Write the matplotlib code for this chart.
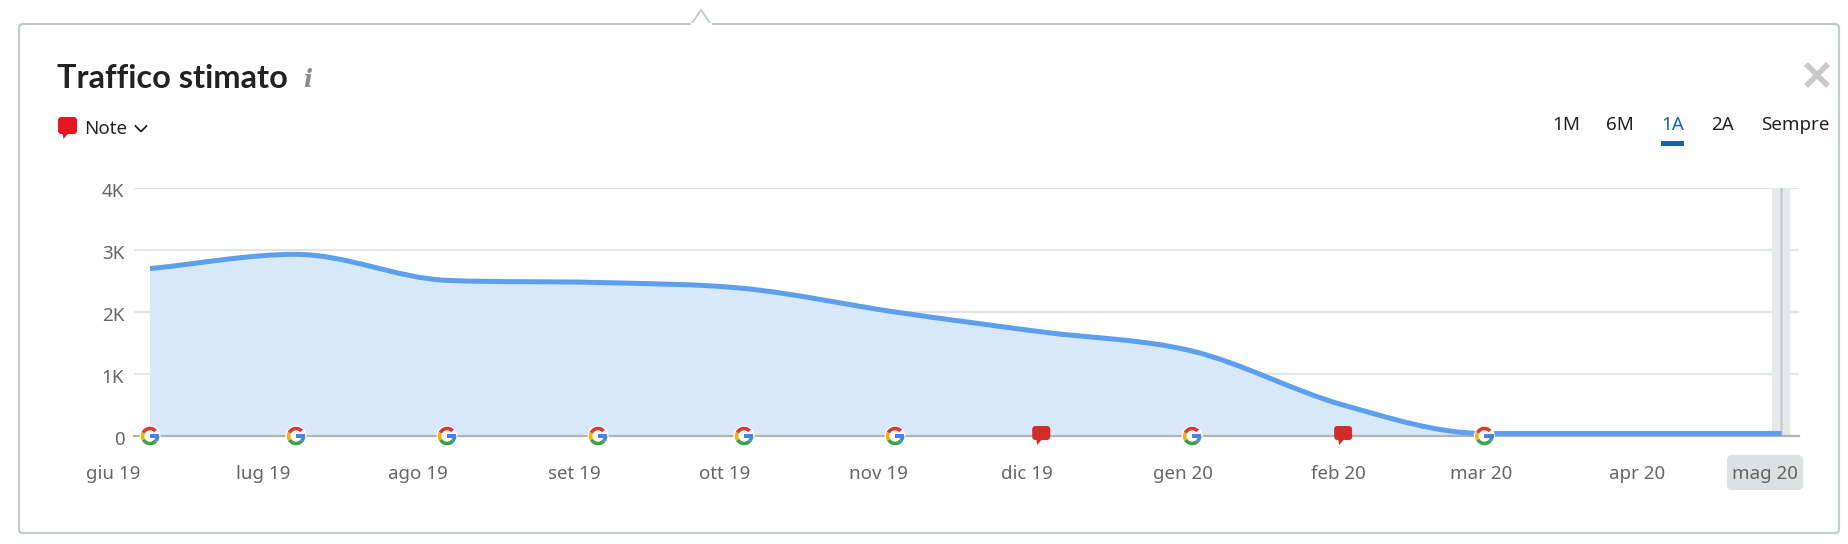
from datetime import date

import numpy as np
import matplotlib
matplotlib.use('Agg')
import matplotlib.pyplot as plt
import matplotlib.dates as mdates
from matplotlib.patches import Wedge, Circle, FancyBboxPatch, Polygon, PathPatch, Rectangle
from matplotlib.path import Path
from matplotlib.transforms import ScaledTranslation

plt.rcParams['font.family'] = ['Noto Sans', 'DejaVu Sans']

W, H, DPI = 1848, 544, 100

# data
months = [date(2019, 6, 1), date(2019, 7, 1), date(2019, 8, 1), date(2019, 9, 1),
          date(2019, 10, 1), date(2019, 11, 1), date(2019, 12, 1), date(2020, 1, 1),
          date(2020, 2, 1), date(2020, 3, 1), date(2020, 4, 1), date(2020, 5, 1)]
month_labels = ['giu 19', 'lug 19', 'ago 19', 'set 19', 'ott 19', 'nov 19',
                'dic 19', 'gen 20', 'feb 20', 'mar 20', 'apr 20', 'mag 20']
traffic = [2700, 2930, 2510, 2476, 2380, 2000, 1680, 1370, 500, 40, 40, 40]
y_ticks = [0, 1000, 2000, 3000, 4000]
y_labels = ['0', '1K', '2K', '3K', '4K']
google_events = [0, 1, 2, 3, 4, 5, 7, 9]
note_events = [6, 8]
periods = ['1M', '6M', '1A', '2A', 'Sempre']

# labels do not sit right under their month in the original
label_shift = [-37, -33, -29, -24, -20, -17, -14, -9, -5, -3, 2, -17]
period_x = [1566, 1620, 1673, 1723, 1795]

GRID = '#e1e5e8'
BORDER = '#c3cbcf'
LINE = '#5b9fee'
FILL = '#d8e8f9'
TEXT = '#666666'
DARK = '#222222'


def smooth_path(xs, ys):
    # monotone cubic through the points, same look as the web chart
    xs = np.asarray(xs, dtype=float)
    ys = np.asarray(ys, dtype=float)
    dx = np.diff(xs)
    d = np.diff(ys) / dx
    m = np.zeros(len(xs))
    m[0], m[-1] = d[0], d[-1]
    for i in range(1, len(xs) - 1):
        if d[i - 1] * d[i] > 0:
            avg = (d[i - 1] + d[i]) / 2
            m[i] = np.sign(avg) * min(abs(avg), 3 * min(abs(d[i - 1]), abs(d[i])))
    verts = [(xs[0], ys[0])]
    codes = [Path.MOVETO]
    for i in range(len(dx)):
        verts += [(xs[i] + dx[i] / 3, ys[i] + m[i] * dx[i] / 3),
                  (xs[i + 1] - dx[i] / 3, ys[i + 1] - m[i + 1] * dx[i] / 3),
                  (xs[i + 1], ys[i + 1])]
        codes += [Path.CURVE4] * 3
    return verts, codes


def draw_google(ov, cx, cy):
    ov.add_patch(Circle((cx, cy), 10.5, fc='white', ec='none', zorder=6))
    # y runs downwards on the overlay, so 270 is the top
    for a, b, c in [(205, 318, '#d93a2b'), (150, 205, '#eeb211'),
                    (40, 150, '#3da34a'), (0, 40, '#4a7fec')]:
        ov.add_patch(Wedge((cx, cy), 9.3, a, b, width=3.6, fc=c, ec='none', zorder=7))
    ov.add_patch(Rectangle((cx, cy - 1.8), 9.2, 3.6, fc='#4a7fec', ec='none', zorder=7))


def draw_note(ov, cx, cy, color, w=18, h=14):
    ov.add_patch(FancyBboxPatch((cx - w / 2 + 3, cy - h / 2 + 3), w - 6, h - 6,
                                boxstyle='round,pad=3,rounding_size=3.5',
                                fc=color, ec='none', zorder=7))
    ov.add_patch(Polygon([(cx - 5, cy + h / 2 - 1), (cx + 1, cy + h / 2 - 1), (cx - 4, cy + h / 2 + 5)],
                         fc=color, ec='none', zorder=7))


def pixel_axes(z):
    a = fig.add_axes([0, 0, 1, 1], zorder=z)
    a.set_xlim(0, W)
    a.set_ylim(H, 0)
    a.axis('off')
    return a


fig = plt.figure(figsize=(W / DPI, H / DPI), dpi=DPI, facecolor='white')

# pixel layers for everything around the chart
bg = pixel_axes(1)
ov = pixel_axes(3)

card = FancyBboxPatch((19, 24), 1820, 509, boxstyle='round,pad=0,rounding_size=4',
                      fc='none', ec=BORDER, lw=1.6)
ov.add_patch(card)
ov.add_patch(Polygon([(691, 24.5), (701, 10), (711, 24.5)], closed=False, fc='white', ec=BORDER, lw=1.4, zorder=4))
ov.plot([692, 710], [24, 24], color='white', lw=2, zorder=4)

ov.text(57, 79, 'Traffico stimato', fontsize=23.4, fontweight='bold', family='Lato', color=DARK, va='center')
ov.text(308, 80, 'i', fontsize=17, family='DejaVu Serif', style='italic', fontweight='bold',
        color='#8c8c8c', va='center', ha='center')
draw_note(ov, 67.5, 125.5, '#e8141f', w=19, h=17)
ov.text(84, 129, 'Note', fontsize=13.5, color=DARK, va='center')
ov.plot([135.5, 141, 146.5], [126, 131.5, 126], color=DARK, lw=1.3)

for name, x in zip(periods, period_x):
    ov.text(x, 125, name, fontsize=13.5, color='#1a5fb0' if name == '1A' else DARK, ha='center', va='center')
ov.add_patch(Rectangle((1661, 141), 23, 5, fc='#1a5fb0', ec='none'))

ov.plot([1806, 1828], [64, 86], color='#c9c9c9', lw=4, solid_capstyle='butt')
ov.plot([1806, 1828], [86, 64], color='#c9c9c9', lw=4, solid_capstyle='butt')

bg.add_patch(FancyBboxPatch((1727, 455), 76, 35, boxstyle='round,pad=0,rounding_size=5',
                            fc='#dde1e1', ec='none'))

# chart itself
ax = fig.add_axes([134 / W, 1 - 436 / H, (1799 - 134) / W, (436 - 188) / H], zorder=2)
ax.patch.set_alpha(0)
days = mdates.date2num(months)
px_per_day = 4.87
ax.set_xlim(days[0] - 16 / px_per_day, days[0] + 1649 / px_per_day)
ax.set_ylim(0, 4000)

ax.set_yticks(y_ticks)
ax.set_yticklabels(y_labels)
ax.set_xticks(days)
ax.set_xticklabels(month_labels)
ax.tick_params(axis='both', length=0, labelsize=13.5, labelcolor=TEXT)
ax.tick_params(axis='y', pad=7)
ax.tick_params(axis='x', pad=21)
ax.grid(axis='y', color=GRID, lw=1.6, zorder=0)
ax.set_axisbelow(True)
for s in ['top', 'right', 'left']:
    ax.spines[s].set_visible(False)
ax.spines['bottom'].set_color('#b0b4b6')
ax.spines['bottom'].set_linewidth(1.6)

for lab, off in zip(ax.get_xticklabels(), label_shift):
    lab.set_transform(lab.get_transform() + ScaledTranslation(off / DPI, 0, fig.dpi_scale_trans))
for lab in ax.get_yticklabels():
    lab.set_transform(lab.get_transform() + ScaledTranslation(0, -2 / DPI, fig.dpi_scale_trans))

verts, codes = smooth_path(days, traffic)
closed_verts = verts + [(days[-1], 0), (days[0], 0), verts[0]]
closed_codes = codes + [Path.LINETO, Path.LINETO, Path.CLOSEPOLY]
ax.add_patch(PathPatch(Path(closed_verts, closed_codes), fc=FILL, ec='none', zorder=1))

# selected month
ax.axvspan(days[-1] - 9 / px_per_day, days[-1] + 9 / px_per_day, color='#e6e9ea', lw=0, zorder=1.5)
ax.axvline(days[-1], color='#c5cbce', lw=1.8, zorder=1.6)

ax.add_patch(PathPatch(Path(verts, codes), fc='none', ec=LINE, lw=3.6, capstyle='butt', zorder=3))

# event icons sit on the zero line
for i in google_events:
    px, py = ax.transData.transform((days[i], 0))
    draw_google(ov, px, H - py)
for i in note_events:
    px, py = ax.transData.transform((days[i], 0))
    draw_note(ov, px, H - py - 3, '#d32a2a')

fig.savefig('out.png', dpi=DPI)
